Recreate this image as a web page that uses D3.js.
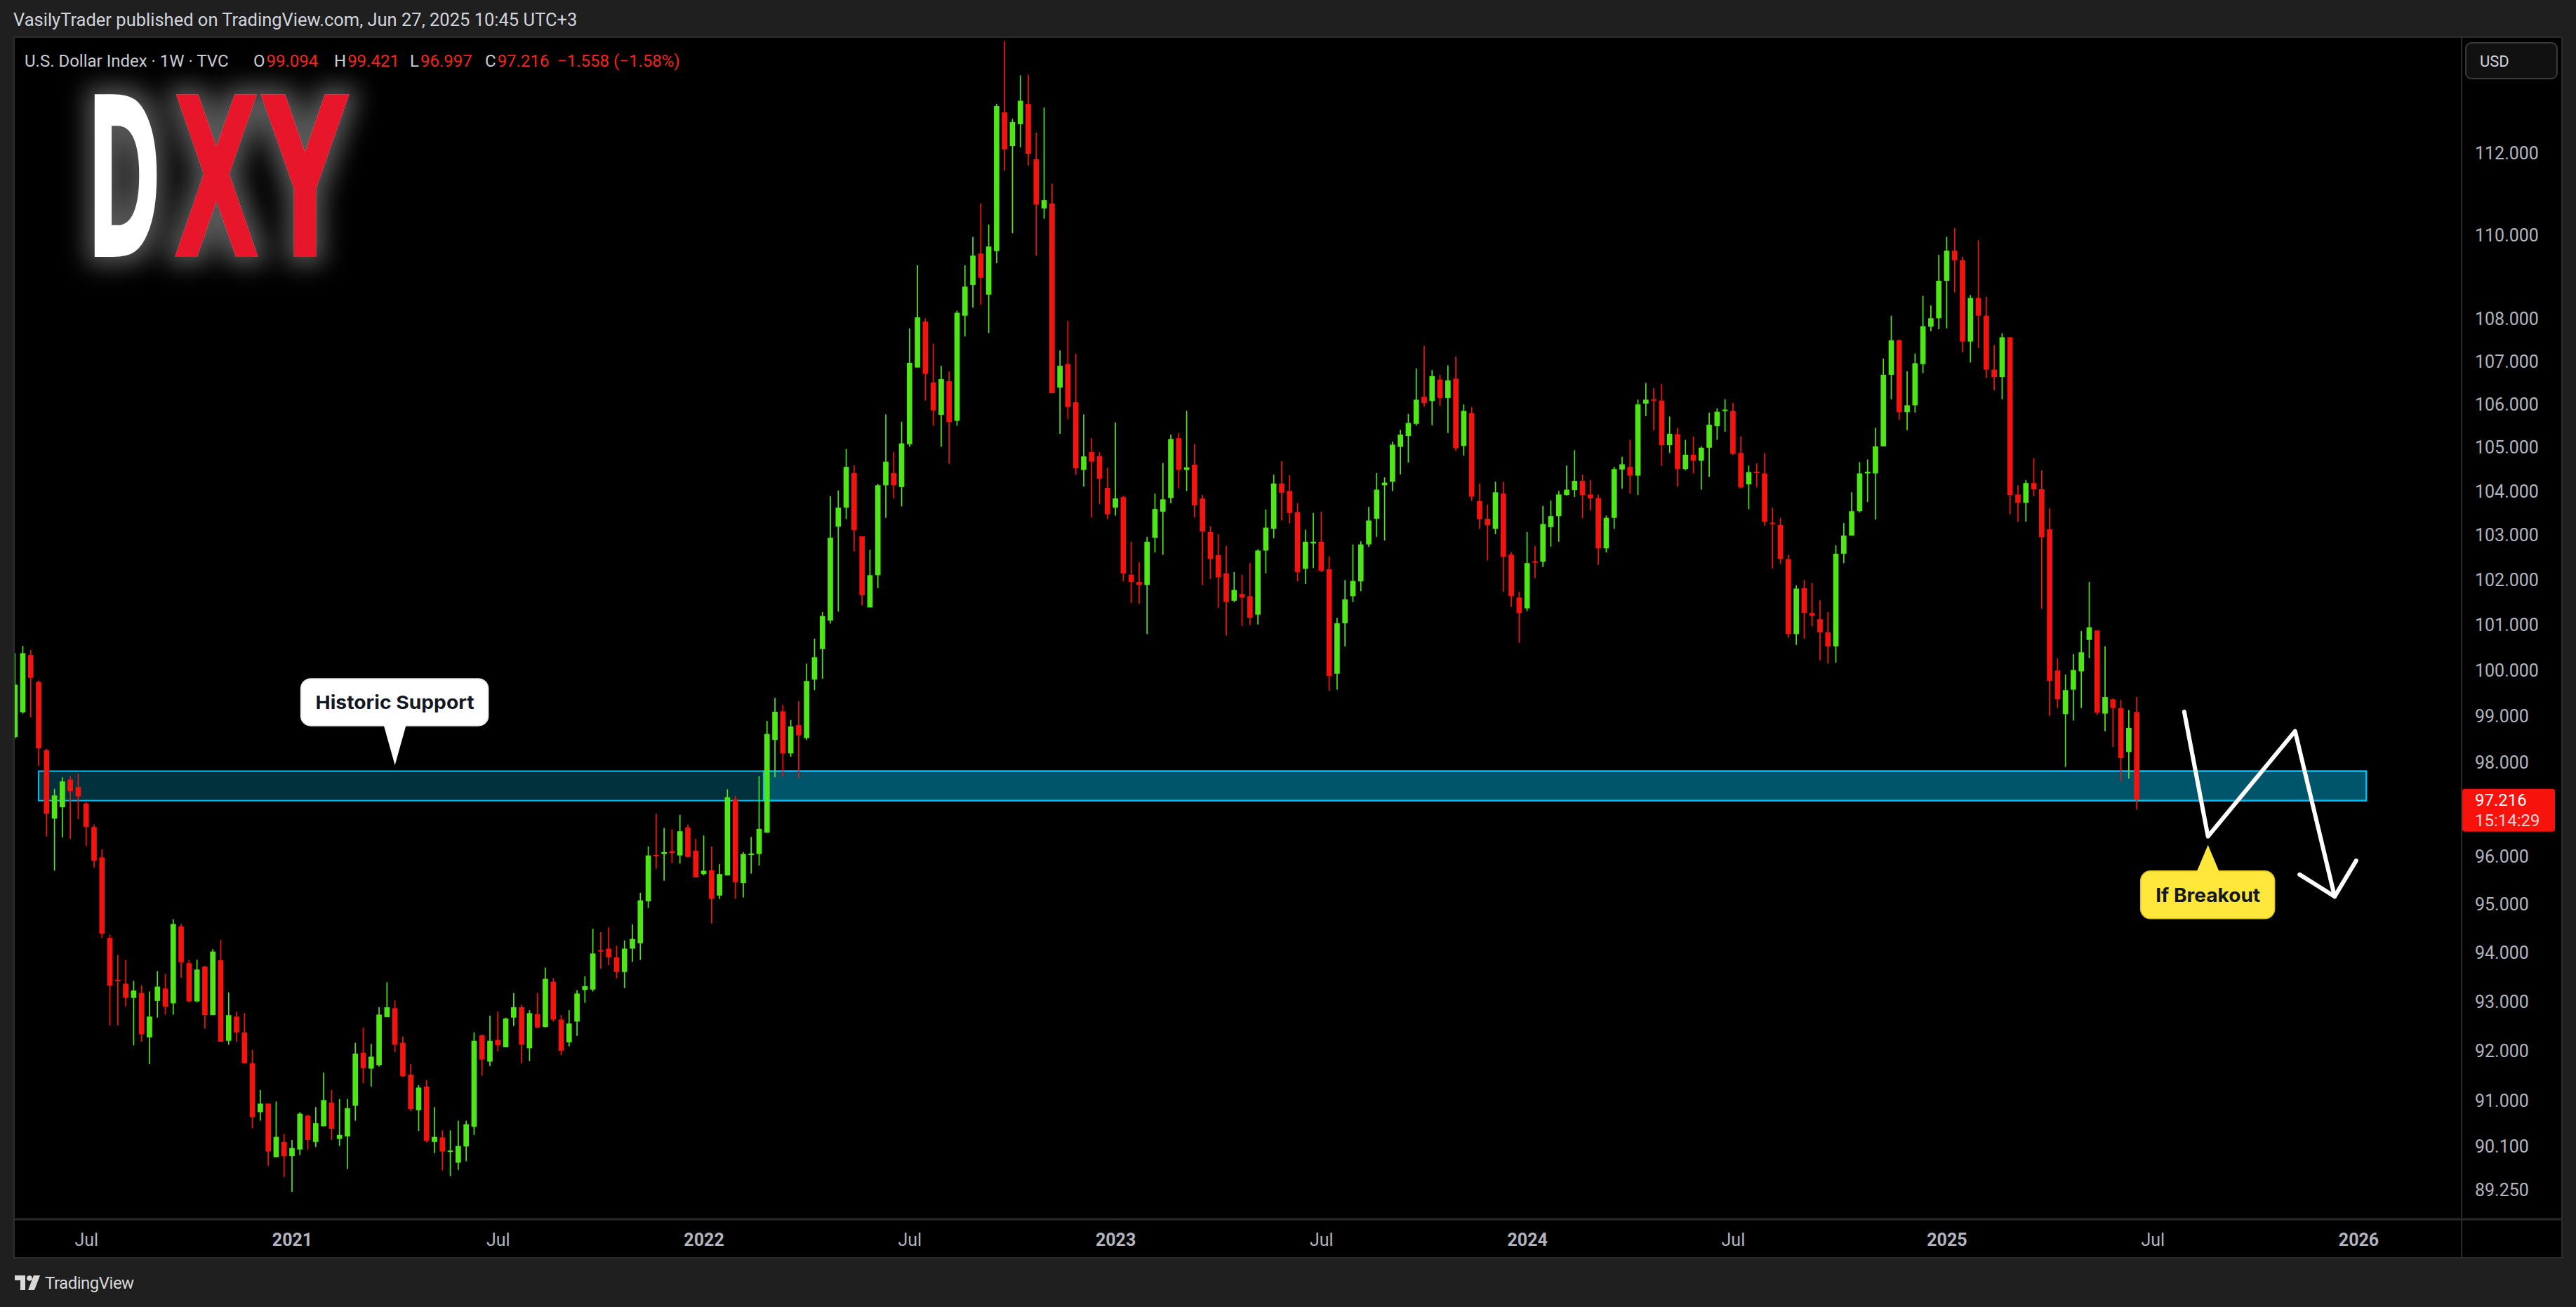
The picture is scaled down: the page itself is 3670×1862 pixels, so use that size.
<!DOCTYPE html>
<html><head><meta charset="utf-8">
<script src="https://cdn.jsdelivr.net/npm/d3@7"></script>
<style>html,body{margin:0;padding:0;background:#1f1f1f;overflow:hidden}svg{display:block}</style>
</head><body>
<svg id="c" width="3670" height="1862"></svg>
<script>
// ---------- DATA (DXY weekly) ----------
const firstWeek = "2020-05-04";
const opens = [
98.55,99.09,100.34,99.75,98.27,96.81,97.05,97.64,97.48,97.13,
96.63,95.99,94.31,93.45,93.37,93.08,93.18,92.28,93.02,93.27,
92.97,94.55,93.79,93.01,93.72,92.73,93.85,92.21,92.70,92.38,
91.76,90.78,90.95,89.89,90.19,89.91,90.04,90.71,90.19,90.50,
90.97,90.25,90.30,90.91,91.97,91.65,91.72,92.69,92.87,92.17,
91.53,90.82,91.29,90.19,90.28,90.00,89.78,90.10,90.49,92.32,
91.79,92.23,92.08,92.68,92.89,92.06,92.75,92.49,93.41,92.64,
92.18,92.60,93.24,93.25,94.06,94.09,93.91,93.61,94.09,94.20,
95.07,96.04,96.06,96.12,96.03,96.62,96.13,95.64,95.72,95.19,
95.61,97.22,95.45,96.04,96.06,96.51,98.49,99.11,98.20,98.81,
98.53,99.80,100.47,101.10,103.20,103.63,104.42,102.98,101.39,102.11,
104.14,104.42,104.10,105.08,106.86,107.94,106.51,105.76,106.54,105.62,
108.08,108.81,109.56,108.58,109.62,113.00,112.17,112.71,113.21,111.85,
110.65,110.77,106.39,106.94,106.05,104.49,104.90,104.81,104.08,103.63,
103.87,102.12,101.96,101.89,102.95,103.54,103.85,105.22,104.49,104.61,
103.84,103.08,102.56,102.15,101.54,101.69,101.64,101.23,102.66,103.15,
104.18,104.01,103.53,102.25,102.82,102.86,102.24,99.93,101.04,101.64,
101.97,102.80,103.38,104.14,104.22,105.02,105.27,105.55,106.18,106.08,
106.58,106.15,106.60,105.04,105.80,103.78,103.38,103.15,103.95,102.57,
101.61,101.37,102.42,102.41,103.19,103.44,103.92,104.03,104.24,103.93,
103.85,102.71,103.40,104.50,104.56,104.36,106.02,106.12,106.09,105.06,
105.31,104.51,104.84,104.70,105.00,105.50,105.85,105.85,104.88,104.16,
104.45,104.41,103.29,103.24,102.47,100.80,101.82,101.27,101.13,100.84,
100.53,102.59,103.00,103.55,104.41,104.41,105.03,106.69,107.50,105.82,
105.98,106.94,107.82,108.02,108.91,109.63,109.40,107.47,108.50,108.08,
106.81,106.64,107.57,103.93,103.74,104.19,104.05,103.14,100.00,99.05,
99.58,99.98,100.67,100.88,99.06,99.37,99.18,98.23,99.094];
const highs = [
100.38,100.54,100.45,99.78,98.30,97.44,97.69,97.72,97.77,97.16,
96.68,96.16,94.38,93.96,93.86,93.43,93.34,93.21,93.63,93.57,
94.70,94.60,93.86,93.86,93.74,94.08,94.27,93.19,92.80,92.77,
92.03,91.22,90.95,90.99,90.35,90.23,90.78,90.73,90.88,91.57,
91.22,91.04,91.04,92.17,92.48,92.15,92.89,93.40,93.03,92.30,
91.74,91.32,91.42,90.88,90.42,90.42,90.61,90.61,92.38,92.34,
92.72,92.80,92.68,93.18,92.94,92.83,93.18,93.70,93.48,92.73,
92.83,93.24,93.52,94.50,94.43,94.53,94.15,94.26,94.59,95.25,
96.22,96.91,96.61,96.58,96.89,96.68,96.38,96.45,96.22,95.85,
97.43,97.29,96.10,96.42,97.71,98.90,99.40,99.25,98.92,99.33,
100.15,100.70,101.29,103.89,104.02,104.97,104.60,102.98,102.68,104.17,
105.77,104.90,105.60,107.78,109.28,108.02,107.42,106.90,106.77,108.20,
109.28,109.96,110.77,110.26,113.21,114.78,112.84,113.92,113.93,112.50,
113.12,111.25,107.26,107.96,107.18,105.77,105.22,104.90,104.54,105.58,
103.90,102.86,102.40,102.97,103.95,104.65,105.30,105.34,105.85,105.08,
103.92,103.21,103.03,102.77,102.18,102.12,102.38,102.69,103.59,104.38,
104.69,104.37,103.73,103.13,103.51,103.54,102.53,101.16,102.00,102.80,
102.87,103.65,104.42,104.32,105.14,105.41,105.78,106.84,107.37,106.80,
106.69,106.91,107.12,106.00,105.94,104.18,103.70,104.22,104.22,102.62,
101.74,103.08,102.76,103.67,103.79,104.01,104.59,104.94,104.38,104.26,
103.93,103.45,104.56,104.79,105.18,106.11,106.50,106.38,106.48,105.72,
105.46,105.18,105.26,105.03,105.81,105.91,106.12,106.04,105.26,104.59,
104.64,104.88,103.63,103.40,102.57,101.88,102.00,101.93,101.55,101.29,
102.78,103.28,103.98,104.67,104.73,105.46,107.07,108.08,107.52,106.77,
107.19,108.55,108.32,109.53,109.96,110.18,109.48,108.57,109.88,108.53,
107.39,107.66,107.57,104.14,104.26,104.76,104.48,103.62,100.27,99.91,
100.36,100.87,101.96,100.88,100.53,99.39,99.36,99.14,99.421];
const lows = [
98.52,99.06,98.98,97.93,96.43,95.71,96.41,96.38,96.80,96.23,
95.77,94.31,92.52,92.52,92.91,92.12,92.19,91.74,92.68,92.74,
92.74,93.49,92.99,92.99,92.46,92.73,92.19,92.13,92.19,91.75,
90.46,90.61,89.72,89.89,89.50,89.21,89.93,90.04,90.09,90.50,
90.23,90.11,89.66,90.61,91.36,91.29,91.69,92.69,91.98,91.48,
90.80,90.41,90.18,89.97,89.63,89.52,89.64,89.81,90.33,91.51,
91.70,92.00,92.08,92.51,91.76,91.80,92.46,92.48,92.60,91.92,
92.10,92.31,92.98,93.21,93.68,93.75,93.48,93.28,93.82,93.86,
94.93,95.75,95.50,95.87,95.86,95.99,95.57,95.61,94.61,95.12,
95.61,95.12,95.15,95.65,95.82,96.51,97.69,97.71,98.13,97.67,
98.49,99.57,99.82,101.03,101.30,103.37,102.64,101.44,101.39,101.82,
103.40,103.84,103.66,105.02,106.86,106.09,105.51,105.02,104.63,105.51,
107.59,108.27,108.34,107.67,109.33,111.57,110.05,112.14,111.69,109.51,
110.40,106.26,105.32,105.66,104.38,104.11,103.41,103.71,103.37,103.45,
101.97,101.49,101.47,100.80,102.62,102.57,103.73,104.07,104.01,103.41,
101.89,102.02,101.38,100.77,101.51,100.98,101.00,101.01,102.15,102.94,
103.34,103.27,101.97,101.91,102.27,102.18,99.56,99.58,100.53,101.51,
101.75,102.74,102.97,102.89,104.01,104.39,104.66,105.51,105.95,105.52,
105.97,105.34,104.93,104.82,103.78,103.15,102.44,103.03,101.74,101.40,
100.61,101.31,102.04,102.29,102.75,102.86,103.90,103.87,103.39,103.57,
102.34,102.62,103.15,104.06,103.95,103.92,105.73,105.40,104.58,104.88,
104.11,104.48,104.41,104.04,104.33,105.18,105.37,104.83,104.07,103.60,
104.09,103.22,102.26,102.36,100.72,100.56,100.70,100.97,100.22,100.15,
100.17,102.38,103.00,103.52,103.76,103.36,105.03,106.12,105.64,105.40,
105.81,106.73,107.71,107.76,107.78,108.63,107.22,106.98,107.31,106.61,
106.33,106.12,103.48,103.31,103.31,103.89,101.36,99.01,99.18,97.91,
98.91,99.18,100.27,99.03,98.68,98.34,97.60,97.66,96.997];
const closes = [
99.69,100.38,99.84,98.31,96.91,97.30,97.60,97.39,97.28,96.63,
95.92,94.40,93.33,93.42,93.08,93.23,92.34,92.70,93.31,92.90,
94.60,93.81,93.01,93.66,92.73,94.03,92.19,92.73,92.38,91.76,
90.68,90.95,90.00,90.29,89.91,90.07,90.75,90.23,90.56,91.02,
90.45,90.33,90.86,91.95,91.66,91.89,92.74,92.89,92.13,91.50,
90.84,91.27,90.21,90.29,90.00,90.02,90.11,90.54,92.21,91.83,
92.21,92.12,92.66,92.89,92.13,92.77,92.48,93.47,92.64,92.01,
92.56,93.17,93.32,93.99,94.03,93.91,93.61,94.09,94.29,95.09,
96.03,96.02,96.10,96.08,96.54,96.00,95.57,95.71,95.12,95.64,
97.26,95.47,96.06,96.07,96.59,98.62,99.10,98.20,98.78,98.59,
99.77,100.29,101.20,102.95,103.63,104.56,103.12,101.66,102.11,104.14,
104.68,104.14,105.10,106.97,108.04,106.71,105.86,106.59,105.59,108.15,
108.77,109.51,108.98,109.73,113.16,112.09,112.76,113.29,111.98,110.74,
110.85,106.26,106.90,105.94,104.53,104.80,104.68,104.29,103.48,103.84,
102.15,101.96,101.89,102.86,103.60,103.82,105.20,104.49,104.55,103.68,
103.09,102.47,102.06,101.51,101.78,101.61,101.16,102.66,103.18,104.18,
103.97,103.51,102.18,102.86,102.86,102.21,99.88,101.04,101.57,101.98,
102.80,103.34,104.04,104.20,105.07,105.30,105.57,106.11,106.03,106.66,
106.15,106.56,104.99,105.85,103.88,103.37,103.23,103.98,102.52,101.64,
101.27,102.38,102.39,103.26,103.44,103.93,104.04,104.24,103.92,103.84,
102.71,103.40,104.51,104.62,104.36,106.00,106.11,106.10,105.06,105.32,
104.51,104.84,104.70,105.00,105.53,105.83,105.88,104.86,104.09,104.44,
104.42,103.31,103.26,102.47,100.80,101.81,101.27,101.20,100.84,100.53,
102.59,103.00,103.55,104.41,104.45,105.03,106.69,107.50,105.82,105.98,
106.96,107.83,108.02,108.91,109.63,109.40,107.47,108.50,108.08,106.81,
106.64,107.57,103.92,103.74,104.19,104.05,102.96,99.77,99.37,99.57,
100.01,100.40,100.95,99.08,99.42,99.18,98.10,98.75,97.216];

const priceTicks = [112,110,108,107,106,105,104,103,102,101,100,99,98,96,95,94,93,92,91,90.1,89.25];
const timeTickDates = ["2020-07-06","2021-01-04","2021-07-05","2022-01-03","2022-07-04","2023-01-02","2023-07-03","2024-01-01","2024-07-01","2025-01-06","2025-07-07","2026-01-05"];
const timeTickLabels = ["Jul","2021","Jul","2022","Jul","2023","Jul","2024","Jul","2025","Jul","2026"];

const zoneLow = 97.19, zoneHigh = 97.82;
const zoneStarts = ["2020-05-25","2022-02-25"];
const zoneEnd = "2026-01-12";

const scenarioDates = ["2025-08-04","2025-08-25","2025-11-10","2025-12-15"];
const scenarioPrices = [99.10,96.43,98.68,95.17];
const arrowHeadDates = ["2025-11-14","2025-12-15","2026-01-03"];
const arrowHeadPrices = [95.63,95.17,95.92];

const supportCallout = {text:"Historic Support", date:"2021-04-05", price:97.95};
const breakoutCallout = {text:"If Breakout", date:"2025-08-25", price:96.25};

const lastPrice = 97.216, countdown = "15:14:29";
const headerText = "VasilyTrader published on TradingView.com, Jun 27, 2025 10:45 UTC+3";
const legendTitle = "U.S. Dollar Index · 1W · TVC";
const legendLabels = ["O","H","L","C",""];
const legendValues = ["99.094","99.421","96.997","97.216","−1.558 (−1.58%)"];

// ---------- CHART ----------
const svg = d3.select("#c");
const P = {l:21, r:3507, t:54, b:1737, axisR:3649, bottom:1791};
const UP = "#4fe617", DOWN = "#f3140f";
const pd = s => d3.utcParse("%Y-%m-%d")(s);

const x = d3.scaleUtc().domain([pd("2021-01-04"), pd("2026-01-05")]).range([416, 3360]);
const y = d3.scaleLog().domain([89.25, 112]).range([1695, 218]);

const start = pd(firstWeek);
const dates = d3.utcMonday.range(start, d3.utcMonday.offset(start, opens.length));
const candles = dates.map((d,i)=>({d, o:opens[i], h:highs[i], l:lows[i], c:closes[i]}));
const step = x(d3.utcMonday.offset(start,1)) - x(start);
const bodyW = step*0.68;

const defs = svg.append("defs");
defs.append("clipPath").attr("id","plotclip").append("rect")
  .attr("x",P.l).attr("y",P.t).attr("width",P.r-P.l).attr("height",P.b-P.t);
const glow = defs.append("filter").attr("id","glow").attr("x","-60%").attr("y","-60%").attr("width","220%").attr("height","220%");
glow.append("feMorphology").attr("in","SourceAlpha").attr("operator","dilate").attr("radius",11).attr("result","d");
glow.append("feGaussianBlur").attr("in","d").attr("stdDeviation",17).attr("result","b");
glow.append("feFlood").attr("flood-color","#ffffff").attr("flood-opacity",0.34);
glow.append("feComposite").attr("in2","b").attr("operator","in").attr("result","g");
const fm = glow.append("feMerge"); fm.append("feMergeNode").attr("in","g"); fm.append("feMergeNode").attr("in","SourceGraphic");

// page + panel
svg.append("rect").attr("width",3670).attr("height",1862).attr("fill","#1f1f1f");
svg.append("rect").attr("x",P.l-1).attr("y",P.t-1).attr("width",P.axisR-P.l+2).attr("height",P.bottom-P.t+2)
  .attr("fill","#000").attr("stroke","#2c2c2c").attr("stroke-width",2);
svg.append("line").attr("x1",P.r).attr("x2",P.r).attr("y1",P.t).attr("y2",P.bottom).attr("stroke","#2a2a2a").attr("stroke-width",2);
svg.append("line").attr("x1",P.l).attr("x2",P.axisR).attr("y1",P.b).attr("y2",P.b).attr("stroke","#2a2a2a").attr("stroke-width",3);

// header
svg.append("text").attr("x",19).attr("y",28).attr("dy","0.35em").attr("fill","#d1d4dc")
  .style("font","25.5px Roboto, 'Noto Sans', sans-serif").text(headerText);

const plot = svg.append("g").attr("clip-path","url(#plotclip)");

// logo
const logo = plot.append("g").attr("filter","url(#glow)")
  .style("font-family","'Liberation Sans Narrow','DejaVu Sans Condensed','Roboto Condensed',sans-serif")
  .style("font-weight","bold").style("font-size","318px");
[["D",123,107,"#ffffff"],["X",246,125,"#e8192c"],["Y",373,123,"#e8192c"]].forEach(([t,lx,lw,col])=>{
  logo.append("text").attr("x",lx).attr("y",366).attr("textLength",lw).attr("lengthAdjust","spacingAndGlyphs")
    .attr("fill",col).text(t);
});

// legend: separate text elements, values placed after measured labels
const legFont = "24px Roboto, 'Noto Sans', sans-serif";
svg.append("text").attr("x",35).attr("y",87).attr("dy","0.35em").attr("fill","#c9ccd4")
  .style("font",legFont).text(legendTitle);
const legX = [361,476,584,691,794];
legendLabels.forEach((lab,i)=>{
  let vx = legX[i];
  if (lab) {
    const lt = svg.append("text").attr("x",legX[i]).attr("y",87).attr("dy","0.35em")
      .attr("fill","#c9ccd4").style("font",legFont).text(lab);
    vx = legX[i] + lt.node().getComputedTextLength() + 2;
  }
  svg.append("text").attr("x",vx).attr("y",87).attr("dy","0.35em")
    .attr("fill","#f7231d").style("font",legFont).text(legendValues[i]);
});

// support zone (two overlapping rectangles)
zoneStarts.forEach(s=>{
  plot.append("rect").attr("x",x(pd(s))).attr("y",y(zoneHigh))
    .attr("width",x(pd(zoneEnd))-x(pd(s))).attr("height",y(zoneLow)-y(zoneHigh))
    .attr("fill","rgba(0,194,245,0.25)").attr("stroke","#00c2f2").attr("stroke-width",2);
});

// candles
const cg = plot.append("g");
cg.selectAll("line.w").data(candles).join("line").attr("class","w")
  .attr("x1",d=>x(d.d)).attr("x2",d=>x(d.d)).attr("y1",d=>y(d.h)).attr("y2",d=>y(d.l))
  .attr("stroke",d=>d.c>=d.o?UP:DOWN).attr("stroke-width",1.7);
cg.selectAll("rect.b").data(candles).join("rect").attr("class","b")
  .attr("x",d=>x(d.d)-bodyW/2).attr("width",bodyW)
  .attr("y",d=>Math.min(y(d.o),y(d.c)))
  .attr("height",d=>Math.max(2,Math.abs(y(d.o)-y(d.c))))
  .attr("fill",d=>d.c>=d.o?UP:DOWN);

// scenario arrow
const line = d3.line().x(d=>x(pd(d[0]))).y(d=>y(d[1]));
const arrowStyle = s=>s.attr("fill","none").attr("stroke","#ffffff").attr("stroke-width",6)
  .attr("stroke-linecap","round").attr("stroke-linejoin","round");
plot.append("path").attr("d",line(scenarioDates.map((d,i)=>[d,scenarioPrices[i]]))).call(arrowStyle);
plot.append("path").attr("d",line(arrowHeadDates.map((d,i)=>[d,arrowHeadPrices[i]]))).call(arrowStyle);

// callouts
function callout(c, opt){
  const tx = x(pd(c.date)), ty = y(c.price);
  const g = plot.append("g");
  const bx = tx + opt.dx, by = ty + opt.dy;
  g.append("rect").attr("x",bx).attr("y",by).attr("width",opt.w).attr("height",opt.h).attr("rx",14)
    .attr("fill",opt.fill).attr("stroke",opt.stroke).attr("stroke-width",1.5);
  const baseY = opt.dy < 0 ? by + opt.h - 1 : by + 1;
  g.append("path").attr("d",`M${tx-16},${baseY}L${tx},${ty}L${tx+16},${baseY}Z`).attr("fill",opt.fill);
  g.append("text").attr("x",tx).attr("y",by+opt.h/2).attr("dy","0.36em").attr("text-anchor","middle")
    .attr("fill","#131722").attr("textLength",opt.tl).attr("lengthAdjust","spacingAndGlyphs")
    .style("font",`bold ${opt.fs}px Inter, Roboto, sans-serif`).text(c.text);
}
callout(supportCallout,{dx:-134,dy:-123,w:267,h:67,fill:"#ffffff",stroke:"#e6e6e6",tl:226,fs:26});
callout(breakoutCallout,{dx:-96,dy:37,w:191,h:68,fill:"#ffe83b",stroke:"#d9c21f",tl:149,fs:27});

// price axis
const ya = svg.append("g").attr("transform",`translate(${P.r},0)`)
  .call(d3.axisRight(y).tickValues(priceTicks).tickFormat(d3.format(".3f")).tickSize(0).tickPadding(19));
ya.select(".domain").remove();
ya.selectAll("text").attr("fill","#b2b5be").style("font","25px Roboto, 'Noto Sans', sans-serif");

// time axis
const xa = svg.append("g").attr("transform",`translate(0,${P.b})`)
  .call(d3.axisBottom(x).tickValues(timeTickDates.map(pd)).tickFormat((d,i)=>timeTickLabels[i]).tickSize(0));
xa.select(".domain").remove();
xa.selectAll("text").attr("y",29).attr("dy","0.35em").attr("fill","#b2b5be")
  .style("font-family","Roboto, 'Noto Sans', sans-serif").style("font-size","25px")
  .style("font-weight",(d,i)=>timeTickLabels[i]==="Jul"?"normal":"bold");

// last price label
const ly = y(lastPrice);
svg.append("rect").attr("x",P.r+1).attr("y",ly-15).attr("width",132).attr("height",61).attr("rx",4).attr("fill","#f7120c");
svg.append("text").attr("x",3526).attr("y",ly+1).attr("dy","0.35em").attr("fill","#ffffff")
  .style("font","24px Roboto, sans-serif").text(d3.format(".3f")(lastPrice));
svg.append("text").attr("x",3526).attr("y",ly+30).attr("dy","0.35em").attr("fill","#ffd6d6")
  .style("font","24px Roboto, sans-serif").text(countdown);

// USD button
svg.append("rect").attr("x",3513).attr("y",61).attr("width",130).attr("height",51).attr("rx",8)
  .attr("fill","#111111").attr("stroke","#3a3a3a").attr("stroke-width",2);
svg.append("text").attr("x",3533).attr("y",87).attr("dy","0.35em").attr("fill","#d1d4dc")
  .style("font","22px Roboto, sans-serif").text("USD");

// TradingView footer
const tv = svg.append("g").attr("fill","#d9d9d9");
tv.append("path").attr("d","M21,1817h15v21h-7v-14h-8z");
tv.append("circle").attr("cx",42).attr("cy",1821).attr("r",3.8);
tv.append("path").attr("d","M48,1817h9l-8,21h-9z");
svg.append("text").attr("x",64).attr("y",1828).attr("dy","0.35em").attr("fill","#d9d9d9")
  .style("font","24px Roboto, sans-serif").style("letter-spacing","-0.5px").text("TradingView");
</script>
</body></html>
